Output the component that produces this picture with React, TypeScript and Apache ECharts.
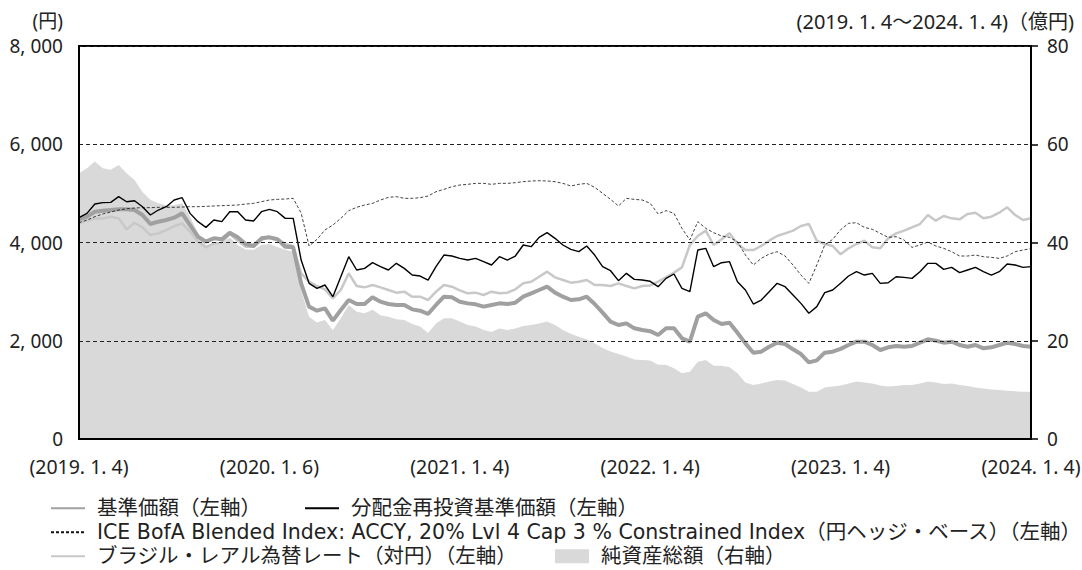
import React, { useEffect, useRef } from 'react';
import * as echarts from 'echarts';

const FONT = "'Noto Sans', 'Noto Sans CJK JP', sans-serif";
const LEGEND_FONT = "'DejaVu Sans', 'Noto Sans CJK JP', sans-serif";

const xTickLabels = ['(2019. 1. 4)', '(2020. 1. 6)', '(2021. 1. 4)', '(2022. 1. 4)', '(2023. 1. 4)', '(2024. 1. 4)'];
const leftTickLabels = ['0', '2, 000', '4, 000', '6, 000', '8, 000'];
const rightTickLabels = ['0', '20', '40', '60', '80'];

const leftUnit = '(円)';
const periodNote = '(2019. 1. 4～2024. 1. 4)（億円)';

const nameNav = '基準価額（左軸）';
const nameDist = '分配金再投資基準価額（左軸）';
const nameIce = 'ICE BofA Blended Index: ACCY, 20% Lvl 4 Cap 3 % Constrained Index（円ヘッジ・ベース）（左軸）';
const nameBrl = 'ブラジル・レアル為替レート（対円）（左軸）';
const nameAssets = '純資産総額（右軸）';

// half-monthly observations, 2019-01-04 .. 2024-01-04 (121 points)
const navValues = [
  4471, 4526, 4627, 4648, 4661, 4675, 4675, 4661, 4560, 4376, 4424, 4458, 4505, 4593, 4356, 4118, 4017, 4085, 4064, 4200, 4105, 3969, 3928, 4085,
  4105, 4064, 3915, 3901, 3169, 2694, 2612, 2660, 2409, 2626, 2829, 2748, 2748, 2884, 2795, 2748, 2728, 2728, 2639, 2612, 2544, 2728, 2897, 2884,
  2795, 2761, 2741, 2694, 2728, 2761, 2748, 2775, 2897, 2965, 3033, 3101, 2979, 2897, 2829, 2843, 2897, 2748, 2572, 2388, 2320, 2354, 2253, 2219,
  2195, 2117, 2253, 2253, 2049, 1981, 2490, 2558, 2422, 2341, 2368, 2164, 1947, 1757, 1778, 1879, 1961, 1934, 1825, 1730, 1560, 1600, 1757, 1778,
  1835, 1913, 1981, 1981, 1913, 1812, 1866, 1893, 1879, 1893, 1961, 2029, 2002, 1961, 1981, 1913, 1879, 1913, 1846, 1866, 1913, 1961, 1934, 1893, 1879,
];

const distValues = [
  4505, 4593, 4783, 4811, 4817, 4933, 4830, 4851, 4729, 4560, 4661, 4729, 4865, 4912, 4593, 4424, 4308, 4458, 4424, 4627, 4627, 4458, 4437, 4627,
  4675, 4627, 4491, 4491, 3643, 3169, 3067, 3135, 2897, 3304, 3711, 3440, 3474, 3589, 3508, 3440, 3576, 3474, 3338, 3318, 3236, 3508, 3745, 3725,
  3677, 3643, 3677, 3610, 3542, 3711, 3643, 3725, 3949, 3915, 4105, 4200, 4085, 3949, 3861, 3813, 3929, 3745, 3508, 3426, 3223, 3372, 3250, 3236,
  3210, 3101, 3270, 3359, 3067, 2999, 3847, 3881, 3508, 3589, 3610, 3202, 3033, 2748, 2829, 2999, 3169, 3101, 2931, 2761, 2560, 2694, 2979, 3033,
  3169, 3318, 3406, 3338, 3372, 3169, 3182, 3304, 3291, 3270, 3406, 3576, 3576, 3454, 3494, 3386, 3440, 3494, 3406, 3338, 3406, 3562, 3542, 3494, 3508,
];

const iceValues = [
  4403, 4457, 4526, 4580, 4620, 4661, 4688, 4702, 4709, 4709, 4716, 4716, 4716, 4722, 4729, 4729, 4736, 4743, 4750, 4756, 4763, 4783, 4797, 4831,
  4865, 4878, 4885, 4899, 4600, 3929, 4064, 4254, 4356, 4491, 4648, 4716, 4763, 4797, 4865, 4919, 4933, 4899, 4899, 4912, 4946, 5034, 5082, 5136,
  5170, 5184, 5204, 5204, 5184, 5204, 5204, 5218, 5238, 5252, 5258, 5252, 5238, 5204, 5150, 5184, 5204, 5123, 5001, 4878, 4743, 4899, 4878, 4865,
  4797, 4580, 4648, 4593, 4288, 4051, 4424, 4288, 4200, 4132, 4105, 4017, 3745, 3542, 3677, 3766, 3813, 3725, 3542, 3338, 3169, 3542, 3949, 4064,
  4260, 4390, 4403, 4308, 4268, 4186, 4105, 4118, 4051, 3901, 3949, 4010, 3929, 3881, 3813, 3725, 3725, 3745, 3711, 3698, 3677, 3725, 3813, 3847, 3874,
];

const brlValues = [
  4390, 4444, 4491, 4491, 4526, 4491, 4268, 4403, 4308, 4152, 4186, 4254, 4335, 4390, 4220, 4017, 3901, 3983, 3996, 4173, 4037, 3915, 3915, 4051,
  4118, 4085, 3969, 3928, 3372, 3202, 3114, 3047, 2863, 3033, 3372, 3114, 3087, 3135, 3087, 3033, 2979, 2999, 2897, 2897, 2829, 2999, 3135, 3101,
  3026, 2965, 2979, 2931, 2999, 2965, 2979, 3047, 3169, 3202, 3304, 3406, 3291, 3236, 3182, 3202, 3236, 3135, 3135, 3114, 3169, 3114, 3067, 3114,
  3125, 3202, 3291, 3386, 3494, 3949, 4132, 4241, 3949, 4064, 4186, 3969, 3847, 3847, 3929, 4037, 4132, 4186, 4241, 4336, 4376, 4037, 3969, 3929,
  3760, 3881, 3969, 4037, 3901, 3881, 4085, 4186, 4241, 4308, 4376, 4559, 4444, 4539, 4492, 4471, 4580, 4607, 4492, 4526, 4607, 4716, 4560, 4458, 4492,
];

const assetValues = [
  54.1, 55.1, 56.5, 55.1, 54.8, 55.8, 54.1, 52.7, 50.3, 48.7, 48.0, 47.6, 47.6, 48.0, 45.3, 41.9, 39.5, 39.8, 39.7, 41.0, 39.5, 38.6, 38.5, 39.5,
  39.7, 39.1, 38.5, 38.1, 30.3, 24.9, 23.7, 24.2, 22.2, 24.6, 27.3, 25.9, 25.6, 26.3, 25.2, 24.9, 24.4, 24.2, 23.4, 22.9, 21.6, 23.5, 24.6, 24.6,
  23.9, 23.2, 22.9, 22.2, 21.8, 22.5, 22.2, 22.5, 23.0, 23.2, 23.5, 23.9, 23.2, 22.2, 21.4, 20.8, 20.3, 19.5, 18.5, 17.8, 17.3, 16.8, 16.2, 16.1,
  16.0, 15.1, 15.1, 14.4, 13.4, 13.7, 15.7, 16.1, 14.9, 14.9, 14.6, 13.4, 11.5, 11.0, 11.3, 11.7, 12.0, 11.9, 11.2, 10.5, 9.6, 9.6, 10.5, 10.7,
  10.9, 11.3, 11.7, 11.5, 11.3, 10.9, 10.7, 10.8, 11.0, 11.0, 11.3, 11.7, 11.5, 11.2, 11.3, 11.0, 10.8, 10.5, 10.3, 10.1, 10.0, 9.8, 9.7, 9.6, 9.6,
];

const toPairs = (arr: number[]) => arr.map((v, i) => [i, v]);

export default function App() {
  const ref = useRef<HTMLDivElement>(null);

  useEffect(() => {
    if (!ref.current) return;
    const chart = echarts.init(ref.current, null, { renderer: 'svg' });
    const textStyle = { fontFamily: LEGEND_FONT, fontSize: 20.5, color: '#222', padding: [0, 0, 0, 7] };
    const legendBase = {
      orient: 'horizontal',
      padding: 0,
      itemWidth: 34,
      itemHeight: 14,
      itemGap: 40,
      textStyle,
      selectedMode: false,
    };
    const lineLegend = { ...legendBase, itemStyle: { opacity: 0, borderWidth: 0 } };
    chart.setOption({
      animation: false,
      backgroundColor: '#fff',
      grid: {
        left: 79,
        right: 51,
        top: 46,
        bottom: 131,
        show: true,
        borderColor: '#000',
        borderWidth: 2,
        backgroundColor: 'transparent',
        outerBoundsMode: 'none',
      },
      xAxis: {
        type: 'value',
        min: 0,
        max: navValues.length - 1,
        interval: 24,
        z: 10,
        axisLine: { show: true, lineStyle: { color: '#000', width: 2 } },
        axisTick: { show: false },
        splitLine: { show: false },
        axisLabel: {
          margin: 18,
          fontFamily: FONT,
          fontSize: 19.5,
          color: '#222',
          formatter: (v: number) => xTickLabels[Math.round(v / 24)] ?? '',
        },
      },
      yAxis: [
        {
          type: 'value',
          min: 0,
          max: 8000,
          interval: 2000,
          z: 10,
          axisLine: { show: true, lineStyle: { color: '#000', width: 2 } },
          axisTick: { show: false },
          splitLine: { show: true, lineStyle: { color: '#222', width: 1, type: [4, 3] } },
          axisLabel: {
            margin: 16,
            fontFamily: FONT,
            fontSize: 19,
            color: '#222',
            formatter: (v: number) => leftTickLabels[Math.round(v / 2000)] ?? '',
          },
        },
        {
          type: 'value',
          position: 'right',
          min: 0,
          max: 80,
          interval: 20,
          z: 10,
          axisLine: { show: true, lineStyle: { color: '#000', width: 2 } },
          axisTick: { show: true, inside: false, length: 7, lineStyle: { color: '#000', width: 1.5 } },
          splitLine: { show: false },
          axisLabel: {
            margin: 16,
            fontFamily: FONT,
            fontSize: 19,
            color: '#222',
            formatter: (v: number) => rightTickLabels[Math.round(v / 20)] ?? '',
          },
        },
      ],
      legend: [
        { ...lineLegend, left: 50, top: 498, data: [nameNav] },
        { ...lineLegend, left: 304, top: 498, data: [nameDist] },
        { ...lineLegend, left: 50, top: 522, data: [nameIce] },
        { ...lineLegend, left: 50, top: 546, data: [nameBrl] },
        { ...legendBase, left: 555, top: 546, data: [{ name: nameAssets, icon: 'rect', itemStyle: { color: '#d9d9d9' } }] },
      ],
      graphic: [
        {
          type: 'text',
          x: 63,
          y: 21,
          style: { text: leftUnit, font: `19px ${FONT}`, fill: '#222', align: 'right', verticalAlign: 'middle' },
        },
        {
          type: 'text',
          x: 1074,
          y: 21,
          style: { text: periodNote, font: `20px ${FONT}`, fill: '#222', align: 'right', verticalAlign: 'middle' },
        },
      ],
      series: [
        {
          name: nameAssets,
          type: 'line',
          yAxisIndex: 1,
          data: toPairs(assetValues),
          symbol: 'none',
          lineStyle: { width: 0, color: '#d9d9d9' },
          itemStyle: { color: '#d9d9d9' },
          areaStyle: { color: '#d9d9d9', opacity: 1 },
        },
        {
          name: nameBrl,
          type: 'line',
          data: toPairs(brlValues),
          symbol: 'none',
          lineStyle: { width: 2.5, color: '#c8c8c8' },
          itemStyle: { color: '#c8c8c8' },
        },
        {
          name: nameNav,
          type: 'line',
          data: toPairs(navValues),
          symbol: 'none',
          lineStyle: { width: 4, color: '#a0a0a0' },
          itemStyle: { color: '#a0a0a0' },
        },
        {
          name: nameIce,
          type: 'line',
          data: toPairs(iceValues),
          symbol: 'none',
          lineStyle: { width: 0.8, color: '#111', type: [3, 2] },
          itemStyle: { color: '#111' },
        },
        {
          name: nameDist,
          type: 'line',
          data: toPairs(distValues),
          symbol: 'none',
          lineStyle: { width: 1.4, color: '#000' },
          itemStyle: { color: '#000' },
        },
      ],
    });
    return () => chart.dispose();
  }, []);

  return <div ref={ref} style={{ position: 'absolute', left: 0, top: 0, width: 1082, height: 570 }} />;
}
